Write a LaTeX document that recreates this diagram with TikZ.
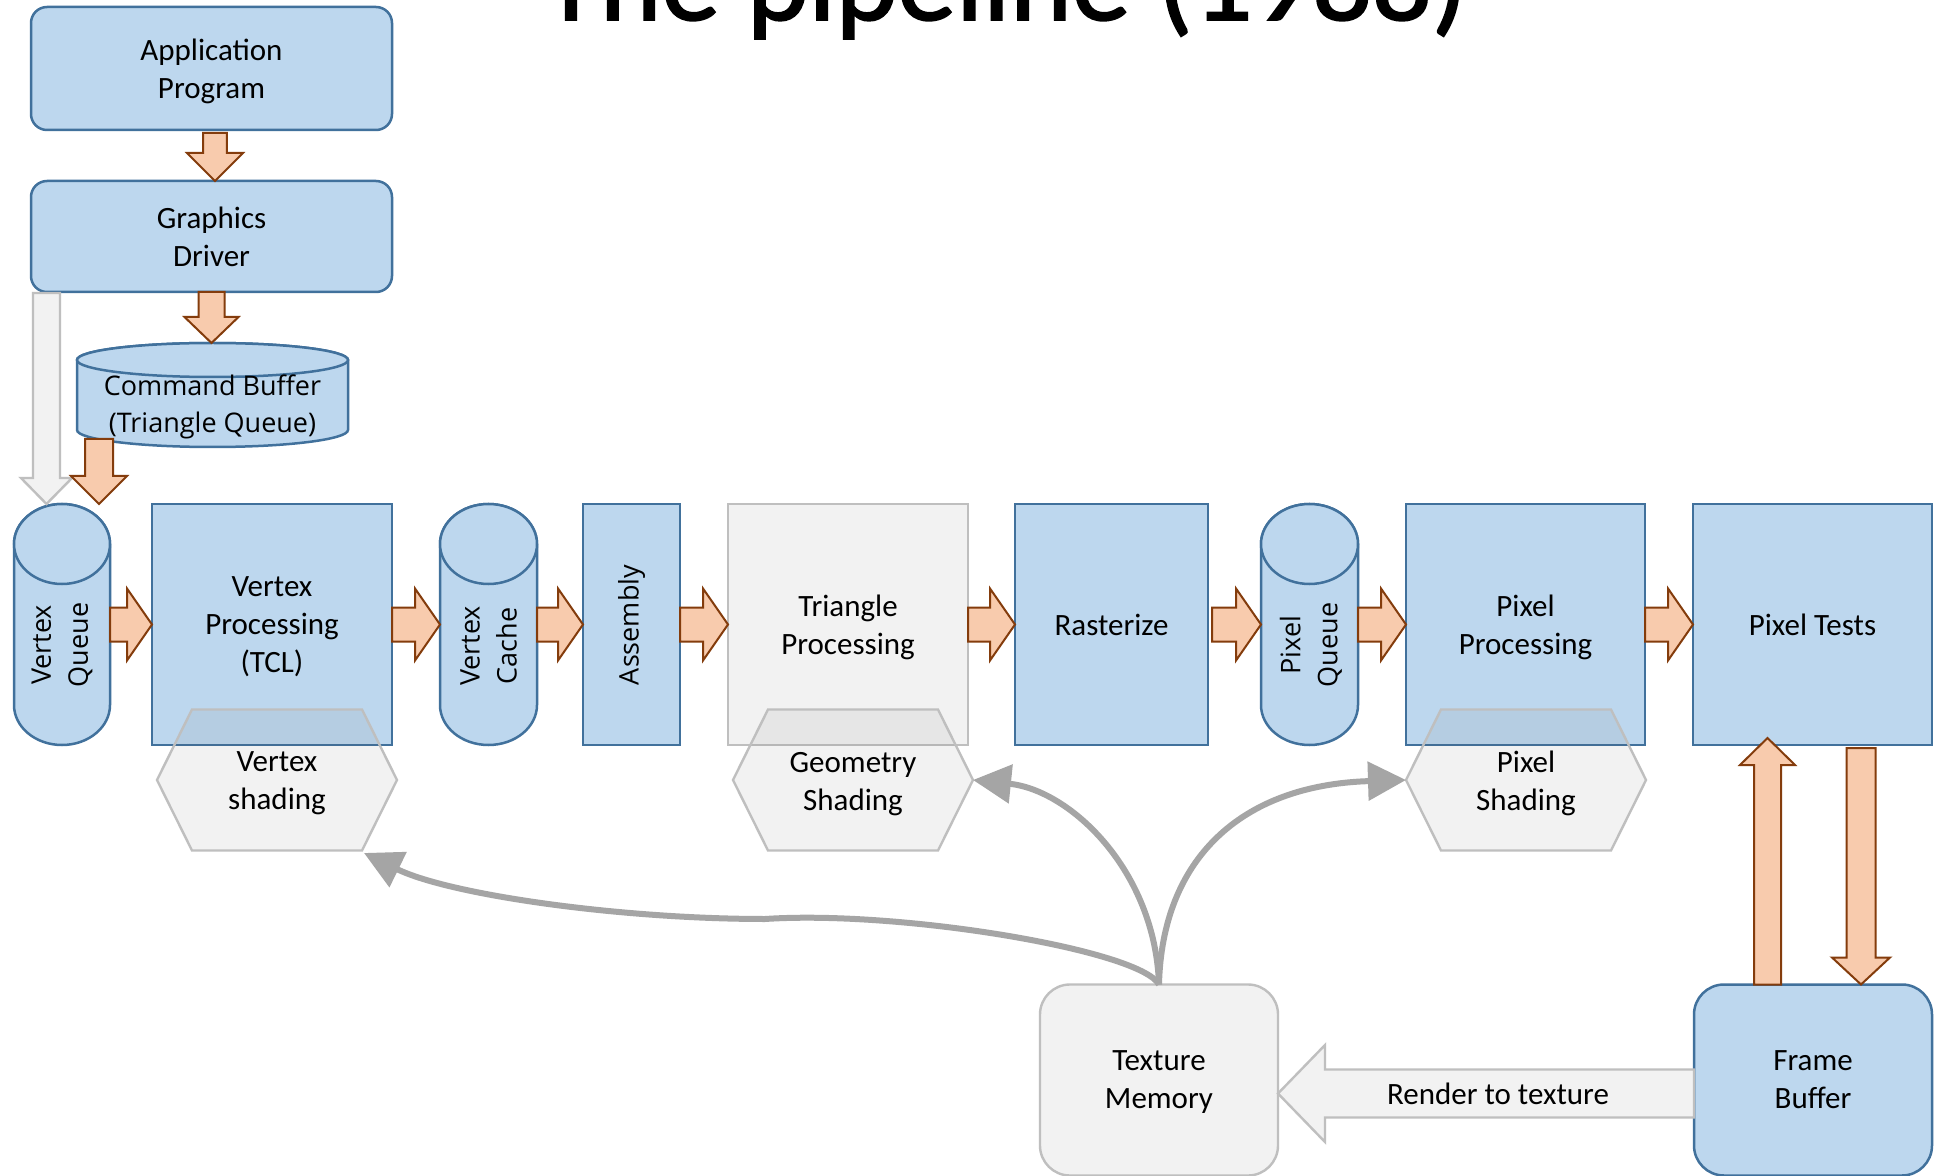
\documentclass[tikz,border=0pt]{standalone}
\usepackage{fontspec}
\setmainfont{Carlito}
\newfontfamily\labfont{Open Sans}
\newfontfamily\headfont[FakeBold=1.5]{Carlito}
\usetikzlibrary{arrows.meta,calc}

\definecolor{bluefill}{HTML}{BDD7EE}
\definecolor{blueline}{HTML}{41719C}
\definecolor{orangefill}{HTML}{F8CBAD}
\definecolor{orangeline}{HTML}{843C0C}
\definecolor{greyfill}{HTML}{F2F2F2}
\definecolor{greyline}{HTML}{BFBFBF}
\definecolor{curvegrey}{HTML}{A5A5A5}
\definecolor{hexshade}{HTML}{545454}

\newcommand\txtsize{\fontsize{15.5}{19}\selectfont}
\newcommand\labsize{\labfont\fontsize{13.5}{18.5}\selectfont}
\newcommand\titlesize{\headfont\fontsize{58.9}{62}\selectfont}

\tikzset{
  bluebox/.style={rectangle, draw=blueline, fill=bluefill, line width=1.25pt,
    inner sep=0pt, outer sep=0pt, align=center, font=\txtsize, text depth=0pt},
  greybox/.style={rectangle, draw=greyline, fill=greyfill, line width=1.2pt,
    inner sep=0pt, outer sep=0pt, align=center, font=\txtsize, text depth=0pt},
  anchorbox/.style={rectangle, draw=none, inner sep=0pt, outer sep=0pt},
  drumshape/.style={draw=blueline, fill=bluefill, line width=1.25pt},
  hexshape/.style={draw=greyline, line width=1.2pt, fill=hexshade, fill opacity=0.075},
  plaintext/.style={inner sep=0pt, align=center, font=\txtsize, text depth=0pt},
  sidetext/.style={inner sep=0pt, align=center, font=\labsize, rotate=90},
  orangearrow/.style={fill=orangefill, draw=orangeline, line width=1pt, line join=miter},
  greyarrow/.style={fill=greyfill, draw=greyline, line width=1.2pt, line join=miter},
  feed/.style={draw=curvegrey, line width=3pt, -{Triangle[length=19pt,width=19pt]}},
}

% upright cylinder: centre x, top y, bottom y, half width, cap half height (px)
\newcommand\drawdrum[5]{%
  \path[drumshape] (#1-#4,#2+#5) -- (#1-#4,#3-#5)
    arc[start angle=180,end angle=360,x radius=#4*0.5pt,y radius=#5*0.5pt]
    -- (#1+#4,#2+#5)
    arc[start angle=0,end angle=180,x radius=#4*0.5pt,y radius=#5*0.5pt] -- cycle;
  \path[drumshape] (#1,#2+#5) ellipse[x radius=#4*0.5pt,y radius=#5*0.5pt];}

% flat hexagon: name, centre x, centre y (px)
\newcommand\drawhex[3]{%
  \path[hexshape] (#2-120,#3) -- (#2-85,#3-70.5) -- (#2+85,#3-70.5) -- (#2+120,#3)
    -- (#2+85,#3+70.5) -- (#2-85,#3+70.5) -- cycle;
  \coordinate (#1-w) at (#2-120,#3);
  \coordinate (#1-e) at (#2+120,#3);
  \coordinate (#1-se) at (#2+87,#3+73);}

% block arrows: style, from, to, shaft half width, head half width, head length
\newcommand\rblock[6]{%
  \draw[#1] let \p1=(#2), \p2=(#3) in
    (\x1,\y1+#4) -- (\x2-#6,\y1+#4) -- (\x2-#6,\y1+#5) -- (\x2,\y1)
    -- (\x2-#6,\y1-#5) -- (\x2-#6,\y1-#4) -- (\x1,\y1-#4) -- cycle;}
\newcommand\lblock[6]{%
  \draw[#1] let \p1=(#2), \p2=(#3) in
    (\x1,\y1+#4) -- (\x2+#6,\y1+#4) -- (\x2+#6,\y1+#5) -- (\x2,\y1)
    -- (\x2+#6,\y1-#5) -- (\x2+#6,\y1-#4) -- (\x1,\y1-#4) -- cycle;}
\newcommand\dblock[6]{%
  \draw[#1] let \p1=(#2), \p2=(#3) in
    (\x1-#4,\y1) -- (\x1-#4,\y2+#6) -- (\x1-#5,\y2+#6) -- (\x1,\y2)
    -- (\x1+#5,\y2+#6) -- (\x1+#4,\y2+#6) -- (\x1+#4,\y1) -- cycle;}
\newcommand\ublock[6]{%
  \draw[#1] let \p1=(#2), \p2=(#3) in
    (\x1-#4,\y1) -- (\x1-#4,\y2-#6) -- (\x1-#5,\y2-#6) -- (\x1,\y2)
    -- (\x1+#5,\y2-#6) -- (\x1+#4,\y2-#6) -- (\x1+#4,\y1) -- cycle;}

\begin{document}
\begin{tikzpicture}[x=0.5pt, y=-0.5pt]
\useasboundingbox (0,0) rectangle (1934,1176);
\clip (0,0) rectangle (1934,1176);
\fill[white] (0,0) rectangle (1934,1176);

% title
\node[inner sep=0pt, anchor=base, font=\titlesize] (title) at (1005,20) {The pipeline (1988)};

% host side
\node[bluebox, rounded corners=8pt, minimum width=180.5pt, minimum height=61.5pt]
  (app) at (211.5,68.5) {Application\\Program};
\node[bluebox, rounded corners=8pt, minimum width=180.5pt, minimum height=55.5pt]
  (gd) at (211.5,236.5) {Graphics\\Driver};

\drawdrum{212.5}{343}{447}{135.5}{17}
\node[anchorbox, minimum width=135.5pt, minimum height=52pt] (cb) at (212.5,395) {};
\node[plaintext, font=\labsize, text depth=0pt] (cbt) at (212.5,404) {Command Buffer\\(Triangle Queue)};

% pipeline row
\drawdrum{62}{504}{745}{48}{40}
\node[anchorbox, minimum width=48pt, minimum height=120.5pt] (vq) at (62,624.5) {};
\node[sidetext] (vqt) at (62,645) {Vertex\\Queue};

\node[bluebox, minimum width=120pt, minimum height=120.5pt] (vp) at (272,624.5) {Vertex\\Processing\\(TCL)};

\drawdrum{488.5}{504}{745}{48.5}{40}
\node[anchorbox, minimum width=48.5pt, minimum height=120.5pt] (vc) at (488.5,624.5) {};
\node[sidetext] (vct) at (488.5,646) {Vertex\\Cache};

\node[bluebox, minimum width=48.5pt, minimum height=120.5pt] (as) at (631.5,624.5) {};
\node[sidetext] (ast) at (631.5,625) {Assembly};

\node[greybox, minimum width=120pt, minimum height=120.5pt] (tp) at (848,624.5) {Triangle\\Processing};
\node[bluebox, minimum width=96.5pt, minimum height=120.5pt] (rs) at (1111.5,624.5) {Rasterize};

\drawdrum{1309.5}{504}{745}{48.5}{40}
\node[anchorbox, minimum width=48.5pt, minimum height=120.5pt] (pq) at (1309.5,624.5) {};
\node[sidetext] (pqt) at (1311,645) {Pixel\\Queue};

\node[bluebox, minimum width=119.5pt, minimum height=120.5pt] (pp) at (1525.5,624.5) {Pixel\\Processing};
\node[bluebox, minimum width=119.5pt, minimum height=120.5pt] (pt) at (1812.5,624.5) {Pixel Tests};

% shading stages
\drawhex{vsh}{277}{780}
\node[plaintext] (vsht) at (277,781) {Vertex\\shading};
\drawhex{gsh}{853}{780}
\node[plaintext] (gsht) at (853,781) {Geometry\\Shading};
\drawhex{psh}{1526}{780}
\node[plaintext] (psht) at (1526,781) {Pixel\\Shading};

% memories
\node[greybox, rounded corners=15pt, minimum width=119pt, minimum height=95.5pt]
  (tm) at (1159,1080) {Texture\\Memory};
\node[bluebox, rounded corners=15pt, minimum width=119pt, minimum height=95.5pt]
  (fb) at (1813,1080) {Frame\\Buffer};

% data flow
\dblock{orangearrow}{[xshift=1.75pt,yshift=-1.5pt]app.south}{gd.north}{5.9pt}{14pt}{14pt}
\dblock{orangearrow}{gd.south}{cb.north}{6.5pt}{13.5pt}{13pt}
\dblock{greyarrow}{[xshift=-82.5pt,yshift=-0.5pt]gd.south}{vq.north}{6.75pt}{12.75pt}{13pt}
\dblock{orangearrow}{[xshift=-56.75pt,yshift=4pt]cb.south}{vq.north}{7pt}{14pt}{14pt}

\rblock{orangearrow}{vq.east}{vp.west}{8.5pt}{18pt}{12.5pt}
\rblock{orangearrow}{vp.east}{vc.west}{8.5pt}{18pt}{12.5pt}
\rblock{orangearrow}{vc.east}{as.west}{8.5pt}{18pt}{12.5pt}
\rblock{orangearrow}{as.east}{tp.west}{8.5pt}{18pt}{12.5pt}
\rblock{orangearrow}{tp.east}{rs.west}{8.5pt}{18pt}{12.5pt}
\rblock{orangearrow}{[xshift=2pt]rs.east}{pq.west}{8.5pt}{18pt}{12.5pt}
\rblock{orangearrow}{pq.east}{pp.west}{8.5pt}{18pt}{12.5pt}
\rblock{orangearrow}{pp.east}{pt.west}{8.5pt}{18pt}{12.5pt}

\ublock{orangearrow}{[xshift=-22.75pt]fb.north}{[yshift=3.5pt]pt.south}{6.75pt}{13.75pt}{13.5pt}
\dblock{orangearrow}{[xshift=24.25pt,yshift=-1.5pt]pt.south}{fb.north}{7.25pt}{14.5pt}{13.5pt}

\lblock{greyarrow}{[yshift=-6.75pt]fb.west}{tm.east}{12pt}{24.25pt}{23.5pt}
\node[plaintext] (rtt) at (1498,1094) {Render to texture};

% texture fetches
\draw[feed] (tm.north) .. controls (1140,950) and (900,910) .. (765,919)
  .. controls (620,919) and (450,895) .. (vsh-se);
\draw[feed] (tm.north) .. controls (1155,870) and (1070,790) .. (gsh-e);
\draw[feed] (tm.north) .. controls (1162,860) and (1240,785) .. (psh-w);
\end{tikzpicture}
\end{document}
